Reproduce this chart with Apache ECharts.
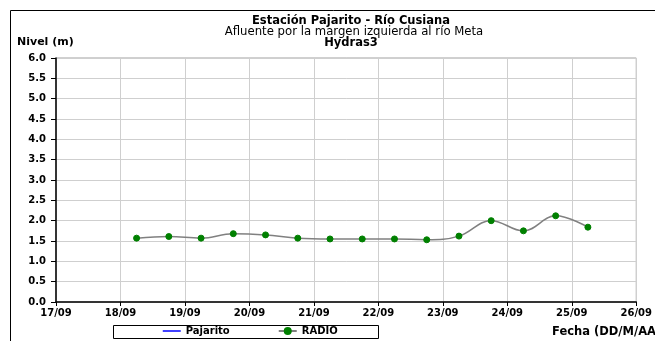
<!DOCTYPE html>
<html><head><meta charset="utf-8">
<script src="https://cdn.jsdelivr.net/npm/echarts@6/dist/echarts.min.js"></script>
<style>html,body{margin:0;padding:0;background:#fff}#c{width:655px;height:341px}</style>
</head><body><div id="c"></div>
<script>
const titleMain = 'Estación Pajarito - Río Cusiana';
const titleSub = 'Afluente por la margen izquierda al río Meta';
const titleThird = 'Hydras3';
const yAxisName = 'Nivel (m)';
const xAxisName = 'Fecha (DD/M/AA';
const seriesNames = ['Pajarito', 'RADIO'];
const year = 2010;
const radioTimes = ['09-18 06:00','09-18 18:00','09-19 06:00','09-19 18:00','09-20 06:00','09-20 18:00','09-21 06:00','09-21 18:00','09-22 06:00','09-22 18:00','09-23 06:00','09-23 18:00','09-24 06:00','09-24 18:00','09-25 06:00'];
const radioValues = [1.57,1.61,1.57,1.68,1.65,1.57,1.55,1.55,1.55,1.53,1.62,2.00,1.75,2.12,1.84];
const pajaritoValues = [];
const xStart = '09-17 00:00';
const xEnd = '09-26 00:00';

const DAY = 86400000;
function ts(s){
  const [md, hm] = s.split(' ');
  const [m, d] = md.split('-').map(Number);
  const [h, mi] = hm.split(':').map(Number);
  return Date.UTC(year, m-1, d, h, mi);
}
function pad(n){return (n<10?'0':'')+n;}
const font = '"DejaVu Sans", Verdana, sans-serif';
const chart = echarts.init(document.getElementById('c'));
chart.setOption({
  animation:false,
  backgroundColor:'#fff',
  graphic:[
    {type:'rect', shape:{x:10.5,y:10.5,width:700,height:400}, style:{fill:'none',stroke:'#000',lineWidth:1}, silent:true},
    {type:'rect', shape:{x:113.5,y:325.5,width:265,height:13}, style:{fill:'#fff',stroke:'#000',lineWidth:1}, z:1, silent:true},
    {type:'text', x:351, y:21, style:{text:titleMain, font:'bold 11.5px '+font, fill:'#000', textAlign:'center', textVerticalAlign:'middle'}},
    {type:'text', x:354, y:32, style:{text:titleSub, font:'11.7px '+font, fill:'#000', textAlign:'center', textVerticalAlign:'middle'}},
    {type:'text', x:351, y:43, style:{text:titleThird, font:'bold 11.5px '+font, fill:'#000', textAlign:'center', textVerticalAlign:'middle'}},
    {type:'text', x:17, y:42, style:{text:yAxisName, font:'bold 11px '+font, fill:'#000', textVerticalAlign:'middle'}},
    {type:'text', x:552, y:332, style:{text:xAxisName, font:'bold 11.5px '+font, fill:'#000', textVerticalAlign:'middle'}}
  ],
  legend:{
    left:162, top:326, itemGap:48, itemWidth:18, itemHeight:10, padding:0,
    textStyle:{fontFamily:font, fontSize:10, fontWeight:'bold', color:'#000'},
    data:[{name:seriesNames[0], itemStyle:{opacity:0}, lineStyle:{color:'#0000ff', width:1.5}}, {name:seriesNames[1]}],
    z:5
  },
  grid:{left:56, right:15, top:58, bottom:39, show:true, borderColor:'#a0a0a0', borderWidth:1, backgroundColor:'#fff'},
  xAxis:{
    type:'value', min:ts(xStart), max:ts(xEnd), interval:DAY,
    axisLine:{lineStyle:{color:'#000', width:1.5}},
    axisTick:{show:true, inside:false, length:4, lineStyle:{color:'#000'}},
    splitLine:{show:true, lineStyle:{color:'#cfcfcf', width:1}},
    axisLabel:{fontFamily:font, fontSize:10, fontWeight:'bold', color:'#000', margin:6,
      formatter:v=>{const d=new Date(v);return pad(d.getUTCDate())+'/'+pad(d.getUTCMonth()+1);}}
  },
  yAxis:{
    type:'value', min:0, max:6, interval:0.5,
    axisLine:{show:true, lineStyle:{color:'#000', width:1.5}},
    axisTick:{show:true, length:5, lineStyle:{color:'#000'}},
    splitLine:{show:true, lineStyle:{color:'#cfcfcf', width:1}},
    axisLabel:{fontFamily:font, fontSize:10, fontWeight:'bold', color:'#000', margin:10, formatter:v=>v.toFixed(1)}
  },
  series:[
    {name:seriesNames[0], type:'line', data:pajaritoValues, symbol:'none', lineStyle:{color:'#0000ff', width:1.5}, itemStyle:{color:'#0000ff'}},
    {name:seriesNames[1], type:'line', smooth:0.4,
     data:radioTimes.map((t,i)=>[ts(t), radioValues[i]]),
     symbol:'circle', symbolSize:6,
     lineStyle:{color:'#808080', width:1.5},
     itemStyle:{color:'#008000', borderColor:'#008000'}}
  ]
});
</script></body></html>
